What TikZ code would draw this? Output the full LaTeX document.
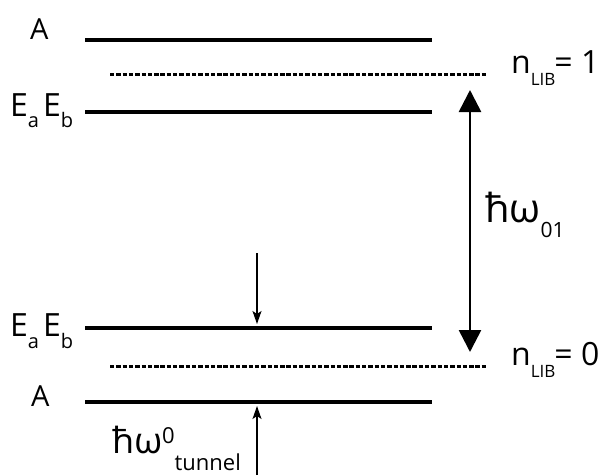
\documentclass[tikz,border=0pt]{standalone}
\usepackage{fontspec}
\setmainfont{Open Sans}
\usetikzlibrary{arrows.meta}
\begin{document}
\begin{tikzpicture}[x=1pt,y=-1pt,
  level/.style={line width=3.2pt},
  vib/.style={line width=3pt, dash pattern=on 4.4pt off 1.9pt},
  bigarrow/.style={line width=2.6pt, {Triangle[length=22pt,width=22pt]}-{Triangle[length=22pt,width=22pt]}},
  smallarrow/.style={line width=1.3pt, -{Stealth[length=13pt,width=9pt,inset=3pt]}},
  lbl/.style={inner sep=0pt, anchor=base west},
]
\useasboundingbox (0,0) rectangle (608,475);
\newcommand{\fs}[1]{\fontsize{#1}{#1}\selectfont}
\newcommand{\sbs}[2]{\raisebox{-#1pt}{\fs{20}#2}}
% levels
\coordinate (a1l) at (85,40);   \coordinate (a1r) at (432,40);
\coordinate (d1l) at (110,74);  \coordinate (d1r) at (486,74);
\coordinate (e1l) at (85,112);  \coordinate (e1r) at (432,112);
\coordinate (e0l) at (85,328);  \coordinate (e0r) at (432,328);
\coordinate (d0l) at (110,366); \coordinate (d0r) at (486,366);
\coordinate (a0l) at (85,402);  \coordinate (a0r) at (432,402);
\draw[level] (a1l) -- (a1r);
\draw[vib] (d1l) -- (d1r);
\draw[level] (e1l) -- (e1r);
\draw[level] (e0l) -- (e0r);
\draw[vib] (d0l) -- (d0r);
\draw[level] (a0l) -- (a0r);
% labels
\node[lbl, font=\fs{29}] (lA1) at (30,39) {A};
\node[lbl, font=\fs{32}] (lE1) at (10,116) {E\sbs{11}{a}\hspace{4pt}E\sbs{11}{b}};
\node[lbl, font=\fs{32}] (lE0) at (10,336) {E\sbs{12}{a}\hspace{4pt}E\sbs{12}{b}};
\node[lbl, font=\fs{29}] (lA0) at (31,406) {A};
\node[lbl] (n1) at (511,73) {\fs{32}n\raisebox{-12pt}{\fs{17}LIB}\hspace{-1pt}\fs{32}= 1};
\node[lbl] (n0) at (511,365) {\fs{32}n\raisebox{-12pt}{\fs{17}LIB}\hspace{-1pt}\fs{32}= 0};
% big arrow
\coordinate (bt) at (470,90);
\coordinate (bb) at (470,352);
\draw[bigarrow] (bb) -- (bt);
\node[lbl] (w01) at (485,222) {\fs{40}ħω\raisebox{-15pt}{\fs{21}01}};
% small arrows
\coordinate (s1) at (257,253);
\coordinate (s1e) at (257,324);
\draw[smallarrow] (s1) -- (s1e);
\coordinate (s2) at (257,475);
\coordinate (s2e) at (257,406);
\draw[smallarrow] (s2) -- (s2e);
\node[lbl] (wt) at (112,453) {\fs{36}ħω\raisebox{10pt}{\fs{22}0}\raisebox{-17pt}{\fs{22}tunnel}};
\end{tikzpicture}
\end{document}
